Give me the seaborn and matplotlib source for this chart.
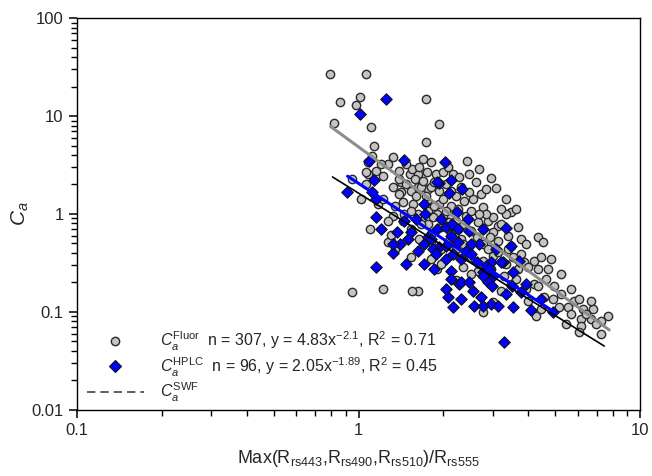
import numpy as np
import pandas as pd
import matplotlib
matplotlib.use("Agg")
import matplotlib.pyplot as plt
from matplotlib.ticker import FuncFormatter, FixedLocator, NullFormatter
from matplotlib.lines import Line2D
import seaborn as sns

# Ca (fluorometric) vs band ratio
fluor_x = [0.79, 1.06, 0.86, 1.01, 0.98, 0.82, 1.11, 1.74, 1.93, 1.13, 1.74, 1.69, 1.08,
           2.42, 1.12, 1.15, 1.08, 1.22, 1.39, 1.52, 1.63, 1.75, 1.89, 2.0, 2.16, 2.61,
           3.07, 2.95, 1.41, 1.41, 1.53, 1.63, 1.76, 1.93, 2.12, 2.31, 1.44, 1.56, 1.75,
           1.93, 2.12, 2.36, 2.55, 2.77, 1.33, 1.45, 1.63, 1.90, 2.12, 2.40, 2.66, 2.88,
           3.0, 3.12, 3.47, 1.76, 1.96, 2.25, 2.5, 2.77, 3.0, 3.39, 1.30, 1.80, 2.08,
           2.31, 2.46, 2.77, 3.12, 3.47, 3.77, 4.35, 4.5, 3.77, 3.87, 4.2, 4.44, 4.33,
           4.7, 3.0, 2.95, 2.66, 1.80, 1.90, 1.22, 1.63, 4.2, 4.55, 4.9, 5.15, 5.55,
           5.8, 6.05, 6.25, 6.8, 7.7, 6.7, 6.16, 6.16, 6.05, 4.26, 3.99, 4.95, 4.33,
           3.39, 3.12, 3.68, 3.28, 3.47, 3.2, 3.0, 2.77, 1.55, 0.95, 1.06, 1.39, 1.66,
           1.80, 2.0, 1.39, 1.76, 1.90, 1.44, 1.27, 1.30, 1.17, 0.95, 7.26, 7.26, 1.47,
           1.58, 1.69, 1.85, 2.04, 2.21, 2.46, 2.72, 1.60, 1.73, 1.85, 2.04, 2.25, 2.5,
           2.83, 1.66, 2.08, 2.35, 2.63, 2.93, 3.2, 3.33, 3.68, 3.93, 2.21, 2.5, 2.77,
           3.33, 3.62, 3.93, 4.63, 5.23, 5.68, 6.69, 4.44, 1.55, 1.27, 1.32, 1.22, 1.35,
           1.53, 1.96, 2.35, 2.21, 1.80, 1.64,
           1.2, 1.32, 1.47, 1.64, 1.80, 2.08, 2.27, 2.46, 2.68, 2.83, 3.33, 3.62, 3.2,
           2.68, 2.21, 1.83, 1.53, 1.27, 1.35, 1.53, 2.12, 2.35, 2.88, 3.52, 3.99, 4.82,
           5.23, 5.68, 6.42, 5.45, 6.97, 2.5, 1.96, 1.06, 1.02, 1.1]
fluor_y = [27, 27, 14, 15.5, 13, 8.5, 7.7, 15, 8.3, 4.9, 5.4, 3.6, 3.4,
           3.45, 3.9, 2.75, 2.56, 2.45, 2.75, 2.56, 2.56, 2.68, 2.56, 2.68, 2.56, 2.12,
           1.84, 2.33, 2.12, 1.68, 1.72, 1.89, 1.80, 1.72, 1.72, 1.89, 1.33, 1.27, 1.36,
           1.27, 1.21, 1.36, 1.42, 1.18, 0.95, 1.0, 1.0, 0.95, 0.93, 0.95, 0.83, 0.85,
           0.93, 0.75, 1.05, 0.79, 0.74, 0.70, 0.67, 0.70, 0.65, 0.60, 0.53, 0.52, 0.52,
           0.556, 0.47, 0.49, 0.53, 0.47, 0.556, 0.58, 0.52, 0.39, 0.32, 0.33, 0.36, 0.275,
           0.275, 0.37, 0.275, 0.26, 0.347, 0.275, 0.172, 0.164, 0.193, 0.142, 0.136, 0.113, 0.113,
           0.13, 0.136, 0.107, 0.107, 0.091, 0.085, 0.085, 0.072, 0.063, 0.091, 0.13, 0.185, 0.185,
           0.44, 0.41, 0.275, 0.233, 0.193, 0.164, 0.126, 0.10, 0.164, 2.28, 2.68, 2.28, 1.89,
           1.89, 1.42, 1.60, 1.07, 1.0, 0.85, 0.52, 0.61, 1.265, 0.16, 0.081, 0.06, 2.02,
           2.28, 2.16, 2.12, 2.02, 1.53, 1.68, 1.60, 1.53, 1.53, 1.21, 1.07, 1.12, 1.07,
           1.0, 0.79, 0.83, 0.79, 0.58, 0.58, 0.79, 1.0, 0.74, 0.49, 0.44, 0.36, 0.33,
           0.31, 0.217, 0.172, 0.217, 0.153, 0.096, 0.13, 0.107, 2.88, 3.24, 1.89, 1.42, 1.21,
           0.70, 0.44, 0.29, 0.21, 0.625, 0.556,
           3.24, 3.8, 3.24, 3.0, 3.4, 3.0, 2.4, 2.56, 2.88, 1.80, 1.42, 1.12, 1.12,
           1.0, 0.85, 0.93, 1.07, 0.85, 0.44, 0.36, 0.625, 0.494, 0.44, 0.36, 0.29, 0.347,
           0.244, 0.172, 0.096, 0.075, 0.075, 0.244, 0.31, 2.02, 1.42, 0.70]

# Ca (HPLC) vs band ratio
hplc_x = [1.25, 1.01, 1.45, 2.02, 1.09, 1.13, 0.91, 1.12, 1.15, 1.15, 1.93, 2.12, 2.1,
          1.70, 1.72, 1.37, 1.53, 1.5, 1.40, 1.33, 1.70, 1.77, 1.90, 2.04, 2.15, 2.25,
          1.93, 1.83, 1.88, 1.70, 1.47, 1.15, 2.04, 2.17, 2.12, 2.12, 2.12, 2.27, 2.08,
          2.17, 1.90, 2.33, 2.23, 2.44, 1.45, 1.80, 2.04, 2.25, 2.40, 2.31, 2.50, 2.68,
          2.77, 3.33, 3.47, 2.95, 3.26, 3.52, 2.77, 3.0, 2.31, 2.46, 2.88, 3.5, 1.33,
          2.83, 2.55, 2.72, 2.57, 2.77, 2.95, 3.12, 3.52, 4.09, 4.9, 2.97, 2.77, 2.9,
          3.2, 3.28, 3.93, 3.77, 2.46, 1.96, 1.60, 2.5, 3.07, 3.7, 2.31, 3.33, 4.44,
          1.85, 1.62, 1.2, 2.04, 2.63]
hplc_y = [15, 10.5, 3.55, 3.4, 3.5, 2.22, 1.68, 1.68, 1.42, 0.93, 2.07, 2.22, 1.64,
          1.265, 1.0, 0.655, 0.655, 0.556, 0.49, 0.40, 0.49, 0.58, 0.70, 0.74, 0.79, 0.70,
          0.46, 0.44, 0.39, 0.31, 0.31, 0.29, 0.347, 0.39, 0.60, 0.26, 0.217, 0.193, 0.142,
          0.113, 2.12, 1.80, 1.05, 0.89, 0.85, 0.556, 0.47, 0.52, 0.42, 0.347, 0.39, 0.49,
          0.70, 0.72, 0.47, 0.32, 0.32, 0.255, 0.255, 0.233, 0.20, 0.20, 0.20, 0.184, 0.49,
          0.295, 0.164, 0.142, 0.115, 0.115, 0.12, 0.115, 0.113, 0.105, 0.10, 0.185, 0.233, 0.275,
          0.32, 0.049, 0.193, 0.16, 0.67, 0.89, 0.89, 0.49, 0.44, 0.33, 0.136, 0.153, 0.136,
          0.275, 0.42, 0.70, 0.172, 0.32]

# power-law fits y = a * x^b and the x range each one is drawn over
fluor_fit = (4.83, -2.1, 0.795, 7.76)
hplc_fit = (2.05, -1.89, 0.914, 5.02)
swf_fit = (1.63, -1.79, 0.808, 7.45)

sns.set_style("ticks", {"xtick.major.size": 6, "ytick.major.size": 6,
                        "xtick.minor.size": 4, "ytick.minor.size": 4})
plt.rcParams['font.family'] = ['Liberation Sans', 'DejaVu Sans']
plt.rcParams['mathtext.fontset'] = 'custom'
plt.rcParams['mathtext.rm'] = 'Liberation Sans'
plt.rcParams['mathtext.it'] = 'Liberation Sans:italic'

fig = plt.figure(figsize=(6.52, 4.76), dpi=100)
ax = fig.add_axes([0.118, 0.139, 0.864, 0.823])

fluor_df = pd.DataFrame({"x": fluor_x, "y": fluor_y})
hplc_df = pd.DataFrame({"x": hplc_x, "y": hplc_y})

sns.scatterplot(data=fluor_df, x="x", y="y", ax=ax, marker="o", s=36,
                color="#c4c4c4", edgecolor="#2a2a2a", linewidth=1.0, zorder=2)
sns.scatterplot(data=hplc_df, x="x", y="y", ax=ax, marker="D", s=34,
                color="#0000ff", edgecolor="#111111", linewidth=0.8, zorder=3)


def fit_line(fit):
    a, b, x0, x1 = fit
    xs = np.geomspace(x0, x1, 50)
    return pd.DataFrame({"x": xs, "y": a * xs ** b})


sns.lineplot(data=fit_line(fluor_fit), x="x", y="y", ax=ax, color="#8c8c8c", lw=2.2, zorder=4)
sns.lineplot(data=fit_line(hplc_fit), x="x", y="y", ax=ax, color="#0000ff", lw=2.2, zorder=5)
sns.lineplot(data=fit_line(swf_fit), x="x", y="y", ax=ax, color="black", lw=1.2, zorder=5)

ax.set_xscale("log")
ax.set_yscale("log")
ax.set_xlim(0.1, 10)
ax.set_ylim(0.01, 100)

# minor ticks at 2..9 within each decade
subs = np.arange(2, 10)
x_minor = np.concatenate([subs * 0.1, subs * 1.0])
y_minor = np.concatenate([subs * 0.01, subs * 0.1, subs * 1.0, subs * 10.0])
ax.xaxis.set_minor_locator(FixedLocator(x_minor))
ax.yaxis.set_minor_locator(FixedLocator(y_minor))

fmt = FuncFormatter(lambda v, p: "{:g}".format(v))
ax.xaxis.set_major_formatter(fmt)
ax.yaxis.set_major_formatter(fmt)
ax.xaxis.set_minor_formatter(NullFormatter())
ax.yaxis.set_minor_formatter(NullFormatter())
ax.tick_params(which="major", direction="out", length=6, width=1.1, labelsize=12,
               top=False, right=False, color="black")
ax.tick_params(which="minor", direction="out", length=4, width=1.0, bottom=True, left=True,
               top=False, right=False, color="black")
for sp in ax.spines.values():
    sp.set_visible(True)
    sp.set_color("black")
    sp.set_linewidth(1.0)

ax.set_xlabel(r"Max(R$_{\mathrm{rs443}}$,R$_{\mathrm{rs490}}$,R$_{\mathrm{rs510}}$)/R$_{\mathrm{rs555}}$",
              fontsize=13, labelpad=7)
ax.set_ylabel(r"$C_a$", fontsize=15, labelpad=0)

handles = [
    Line2D([], [], ls="none", marker="o", ms=6, mfc="#c4c4c4", mec="#2a2a2a", mew=1.0),
    Line2D([], [], ls="none", marker="D", ms=6, mfc="#0000ff", mec="#111111", mew=0.8),
    Line2D([], [], color="#444444", lw=1.2, ls=(0, (5, 3))),
]
labels = [
    r"$C_a^{\mathrm{Fluor}}$  n = 307, y = 4.83x$^{-2.1}$, R$^2$ = 0.71",
    r"$C_a^{\mathrm{HPLC}}$  n = 96, y = 2.05x$^{-1.89}$, R$^2$ = 0.45",
    r"$C_a^{\mathrm{SWF}}$",
]
ax.legend(handles, labels, loc="lower left", bbox_to_anchor=(0.0, -0.01), frameon=False,
          fontsize=11.5, handlelength=3.6, handletextpad=1.0, labelspacing=0.15,
          borderaxespad=0.2)

fig.savefig("out.png", dpi=100)
